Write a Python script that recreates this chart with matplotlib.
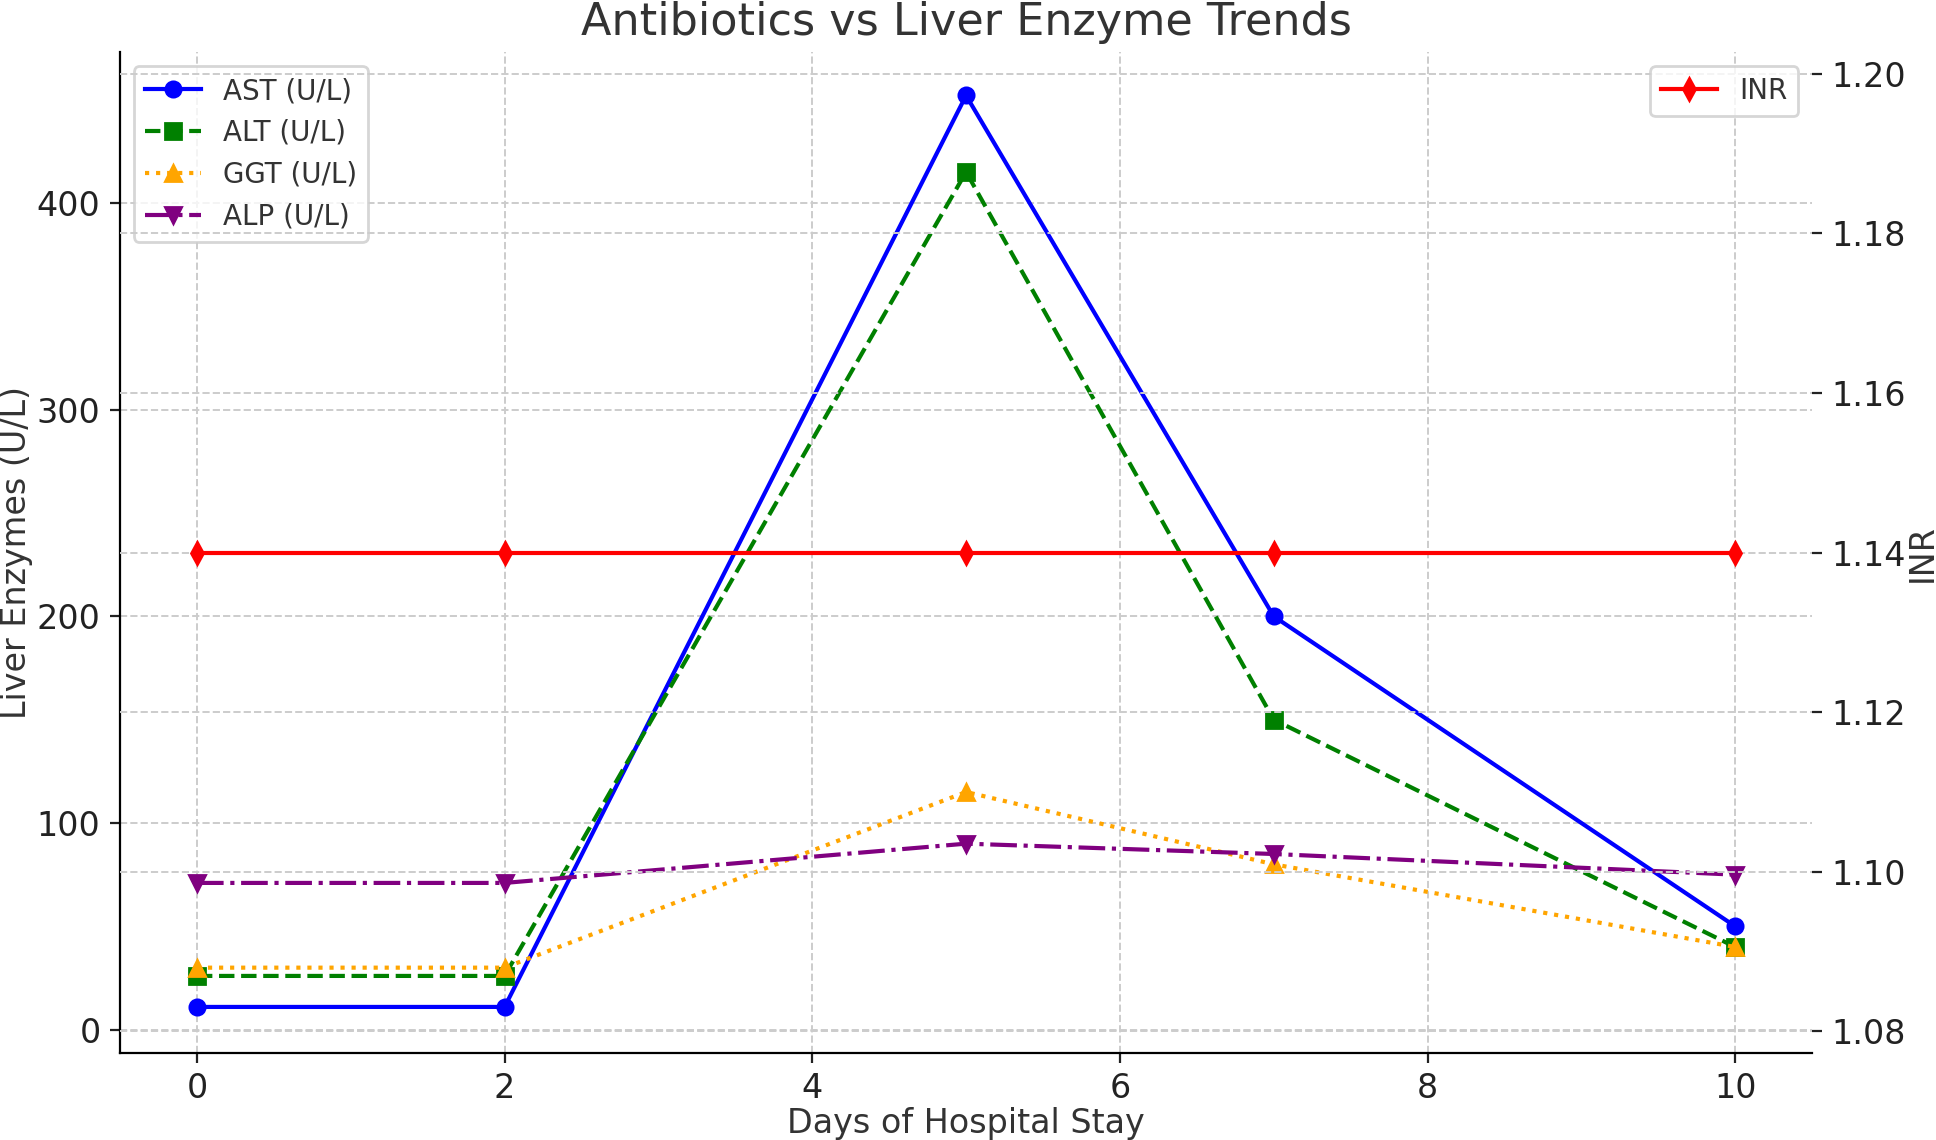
"""Antibiotics vs liver enzyme trends, twin axis line chart."""

import matplotlib
matplotlib.use("Agg")
import matplotlib.pyplot as plt

days = [0, 2, 5, 7, 10]
ast = [11, 11, 452, 200, 50]
alt = [26, 26, 415, 150, 40]
ggt = [30, 30, 115, 80, 40]
alp = [71, 71, 90, 85, 75]
inr = [1.14, 1.14, 1.14, 1.14, 1.14]

TEXT = "#222222"
plt.rcParams["font.family"] = "DejaVu Sans"

fig = plt.figure(figsize=(9.68, 5.7), dpi=200)
ax = fig.add_axes([0.062, 0.0763, 0.874, 0.878])

ax.plot(days, ast, color="blue", marker="o", linestyle="-", markersize=5.5, label="AST (U/L)")
ax.plot(days, alt, color="green", marker="s", linestyle="--", markersize=5.5, label="ALT (U/L)")
ax.plot(days, ggt, color="orange", marker="^", linestyle=":", markersize=5.5, label="GGT (U/L)")
ax.plot(days, alp, color="purple", marker="v", linestyle="-.", markersize=5.5, label="ALP (U/L)")
ax.set_xlim(-0.5, 10.5)
ax.set_ylim(-11.3, 473)
ax.set_xticks([0, 2, 4, 6, 8, 10])
ax.set_yticks([0, 100, 200, 300, 400])
ax.set_xlabel("Days of Hospital Stay", fontsize=12, color="#333333", labelpad=0.5)
ax.set_ylabel("Liver Enzymes (U/L)", fontsize=12, color="#333333", labelpad=1.5)
ax.tick_params(labelsize=12, colors=TEXT)
ax.grid(True, color="#cccccc", linestyle="--", linewidth=0.7)
ax.legend(loc="upper left", fontsize=10, labelcolor="#333333", edgecolor="#cccccc")
ax.spines["top"].set_visible(False)
ax.spines["right"].set_visible(False)

ax2 = ax.twinx()
ax2.plot(days, inr, color="red", marker="d", linestyle="-", markersize=5.5, label="INR")
ax2.set_ylim(1.0773, 1.2027)
ax2.set_yticks([1.08, 1.10, 1.12, 1.14, 1.16, 1.18, 1.20])
ax2.set_ylabel("INR", fontsize=12, color="#333333", labelpad=0)
ax2.tick_params(labelsize=12, colors=TEXT)
ax2.grid(True, color="#cccccc", linestyle="--", linewidth=0.7)
ax2.legend(loc="upper right", fontsize=10, labelcolor="#333333", edgecolor="#cccccc")
for s in ["top", "right", "left", "bottom"]:
    ax2.spines[s].set_visible(False)

ax.set_title("Antibiotics vs Liver Enzyme Trends", fontsize=16, color="#333333")

fig.savefig("out.png", dpi=200)
